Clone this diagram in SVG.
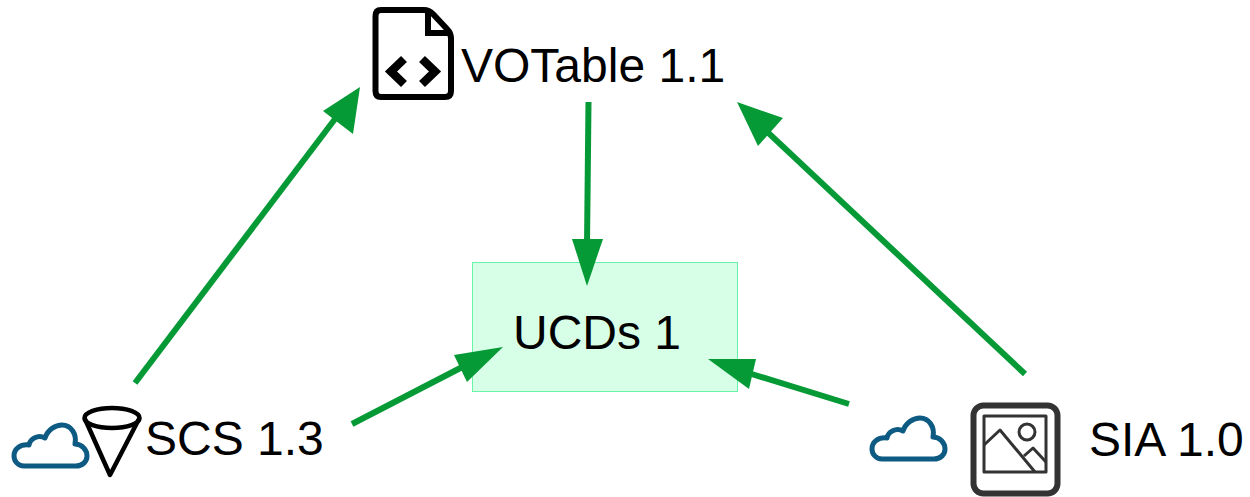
<svg xmlns="http://www.w3.org/2000/svg" width="1250" height="497" viewBox="0 0 1250 497">
<style>
text{font-family:"Liberation Sans",Arial,sans-serif;font-size:48px;fill:#000}
.c{fill:none;stroke:#0d5a82;stroke-width:5;stroke-linejoin:round}
.k{fill:none;stroke:#000;stroke-width:4.5;stroke-linejoin:round}
.a{fill:none;stroke:#059a36;stroke-width:6}
.h{fill:#059a36}
.p{fill:none;stroke:#333;stroke-width:3;stroke-linejoin:round}
</style>
<defs>
<path id="cloud" d="M10 0 C4 0 0 -5 0 -10 C0 -17 6 -22 15 -21 C16 -27 24 -32 31 -28 C34 -37 42 -41 48 -41 C57 -41 63 -32 61 -22 C68 -22 73 -16 73 -10 C73 -4 68 0 62 0 Z"/>
</defs>
<g id="votable">
<path d="M384 10 H424 Q429 10 433 14 L447 29 Q451 33 451 38 V91 Q451 97 445 97 H381 Q375.500 97 375.500 91 V16 Q375.500 10 381 10 Z" fill="none" stroke="#000" stroke-width="6"/>
<path d="M428 10 V33 H451" fill="none" stroke="#000" stroke-width="6"/>
<path d="M404 59 L391 71.500 L404 84 M422 59 L435 71.500 L422 84" fill="none" stroke="#000" stroke-width="8.500"/>
<text x="461" y="82">VOTable 1.1</text>
</g>
<g id="ucds">
<rect x="472.500" y="262.500" width="265" height="129" fill="#d7ffe8" stroke="#66f5a8" stroke-width="1"/>
<text x="513" y="349">UCDs 1</text>
</g>
<g id="scs">
<use href="#cloud" class="c" x="14" y="466"/>
<ellipse class="k" cx="112" cy="418" rx="27.500" ry="10"/>
<path class="k" d="M84.500 418 L110 475 L139.500 418"/>
<text x="145" y="455">SCS 1.3</text>
</g>
<g id="sia">
<use href="#cloud" class="c" x="872" y="459"/>
<rect x="973.500" y="405.500" width="84" height="88" rx="10" fill="none" stroke="#333" stroke-width="6"/>
<rect class="p" x="984" y="416" width="62" height="56"/>
<circle class="p" cx="1027" cy="432" r="8"/>
<path class="p" d="M984 445 L1000 430 L1035 472 M1024 456 L1033 448 L1046 462"/>
<text x="1089" y="456">SIA 1.0</text>
</g>
<g id="connectors">
<line class="a" x1="135" y1="383" x2="338" y2="115"/>
<polygon class="h" points="360,87 353,134 323,111"/>
<line class="a" x1="588.500" y1="102" x2="587" y2="245"/>
<polygon class="h" points="587,286 572,239 603,239"/>
<line class="a" x1="1025" y1="374" x2="762" y2="127"/>
<polygon class="h" points="737,102 783,118 758,146"/>
<line class="a" x1="352" y1="424" x2="472" y2="362"/>
<polygon class="h" points="503,347 467,382 454,355"/>
<line class="a" x1="849" y1="404" x2="742" y2="371"/>
<polygon class="h" points="708,359 756,359 749,389"/>
</g>
</svg>
